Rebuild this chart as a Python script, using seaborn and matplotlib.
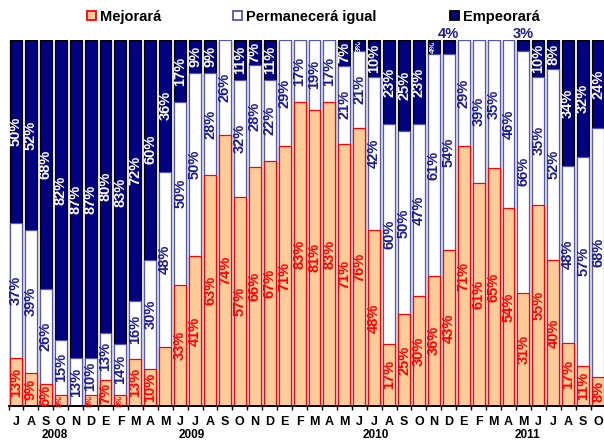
import matplotlib
matplotlib.use("Agg")
import matplotlib.pyplot as plt
from matplotlib.patches import Patch
import numpy as np
import pandas as pd
import seaborn as sns


MONTHS = ["J", "A", "S", "O", "N", "D",
          "E", "F", "M", "A", "M", "J", "J", "A", "S", "O", "N", "D",
          "E", "F", "M", "A", "M", "J", "J", "A", "S", "O", "N", "D",
          "E", "F", "M", "A", "M", "J", "J", "A", "S", "O"]
YEARS = ["2008", "2009", "2010", "2011"]

MEJORARA = [13, 9, 6, 3, 0, 3,
            7, 3, 13, 10, 16, 33, 41, 63, 74, 57, 66, 67,
            71, 83, 81, 83, 71, 76, 48, 17, 25, 30, 36, 43,
            71, 61, 65, 54, 31, 55, 40, 17, 11, 8]
PERMANECERA = [37, 39, 26, 15, 13, 10,
               13, 14, 16, 30, 48, 50, 50, 28, 26, 32, 28, 22,
               29, 17, 19, 17, 21, 21, 42, 60, 50, 47, 61, 54,
               29, 39, 35, 46, 66, 35, 52, 48, 57, 68]
EMPEORARA = [50, 52, 68, 82, 87, 87,
             80, 83, 72, 60, 36, 17, 9, 9, 0, 11, 7, 11,
             0, 0, 0, 0, 7, 3, 10, 23, 25, 23, 4, 4,
             0, 0, 0, 0, 3, 10, 8, 34, 32, 24]

# labels not shown in the original / shown above the bar
HIDDEN_MEJ = [10]
OUTSIDE_EMP = [29, 34]

YEAR_X = [2.6, 11.8, 24.1, 34.3]

MEJ_FILL, MEJ_EDGE, MEJ_TEXT = "#FFCC99", "#FF0000", "#FF0000"
PERM_FILL, PERM_EDGE, PERM_TEXT = "#FFFFFF", "#5555B5", "#1C1C90"
EMP_FILL, EMP_EDGE, EMP_TEXT = "#000080", "#000000", "#FFFFFF"

FONT = ["Liberation Sans", "DejaVu Sans"]


def draw_graph():
    sns.set_style("white")
    plt.rcParams["font.family"] = FONT
    plt.rcParams["text.color"] = "black"
    plt.rcParams["xtick.color"] = "black"
    plt.rcParams["xtick.labelcolor"] = "black"

    n = len(MONTHS)
    df = pd.DataFrame({"idx": list(range(n)), "mej": MEJORARA,
                       "perm": PERMANECERA, "emp": EMPEORARA})
    total = df["mej"] + df["perm"] + df["emp"]
    df["top_mej"] = df["mej"] / total * 100
    df["top_perm"] = (df["mej"] + df["perm"]) / total * 100
    df["top_emp"] = (df["mej"] + df["perm"] + df["emp"]) / total * 100

    fig = plt.figure(figsize=(6.04, 4.40), dpi=100)
    ax = fig.add_axes([0.0141, 0.0773, 0.9884, 0.8318])

    # cumulative bars drawn back to front
    for col, fc, ec in [("top_emp", EMP_FILL, EMP_EDGE),
                        ("top_perm", PERM_FILL, PERM_EDGE),
                        ("top_mej", MEJ_FILL, MEJ_EDGE)]:
        sns.barplot(data=df, x="idx", y=col, color=fc, saturation=1,
                    edgecolor=ec, linewidth=0.9, width=0.8,
                    errorbar=None, ax=ax)

    # data labels
    for i in range(n):
        segs = [(0, df["top_mej"][i], MEJORARA[i], MEJ_TEXT, "mej"),
                (df["top_mej"][i], df["top_perm"][i], PERMANECERA[i], PERM_TEXT, "perm"),
                (df["top_perm"][i], df["top_emp"][i], EMPEORARA[i], EMP_TEXT, "emp")]
        for lo, hi, val, tc, kind in segs:
            if val == 0:
                continue
            if kind == "mej" and i in HIDDEN_MEJ:
                continue
            if kind == "emp" and i in OUTSIDE_EMP:
                ax.text(i, 100.6, f"{val}%", ha="center", va="baseline",
                        fontsize=10.5, fontweight="bold", color=PERM_TEXT,
                        clip_on=False)
                continue
            size = 6 if val < 5 else 10.5
            ax.text(i, (lo + hi) / 2, f"{val}%", ha="center", va="center",
                    rotation=90, fontsize=size, fontweight="bold", color=tc)

    ax.set_xlim(-0.5, n - 0.5)
    ax.set_ylim(0, 100)
    ax.set_xlabel("")
    ax.set_ylabel("")
    ax.set_yticks([])
    ax.set_xticks(range(n))
    ax.set_xticklabels(MONTHS, fontsize=9, fontweight="bold", color="black")
    ax.set_xticks(np.arange(-0.5, n, 1), minor=True)
    ax.tick_params(axis="x", which="major", length=0, pad=7)
    ax.tick_params(axis="x", which="minor", length=3, width=1, color="black",
                   direction="out", bottom=True)
    for side in ["left", "right", "top"]:
        ax.spines[side].set_visible(False)
    ax.spines["bottom"].set_color("black")
    ax.spines["bottom"].set_linewidth(1.4)

    for x, year in zip(YEAR_X, YEARS):
        ax.text(x, -0.079, year, transform=ax.get_xaxis_transform(),
                ha="center", va="center", fontsize=8.5, fontweight="bold",
                color="black")

    # legend, one entry each
    entries = [("Mejorará", MEJ_FILL, MEJ_EDGE, 87),
               ("Permanecerá igual", PERM_FILL, PERM_EDGE, 233),
               ("Empeorará", EMP_FILL, EMP_EDGE, 450)]
    for label, fc, ec, px in entries:
        handle = Patch(facecolor=fc, edgecolor=ec, linewidth=1.3)
        leg = fig.legend([handle], [label], loc="center left",
                         bbox_to_anchor=(px / 604, 1 - 17 / 440),
                         frameon=False, borderpad=0, borderaxespad=0,
                         handlelength=0.6, handleheight=0.6, handletextpad=0.3,
                         prop={"weight": "bold", "size": 10.5})
        for t in leg.get_texts():
            t.set_color("black")

    plt.savefig("out.png", dpi=100)


draw_graph()
